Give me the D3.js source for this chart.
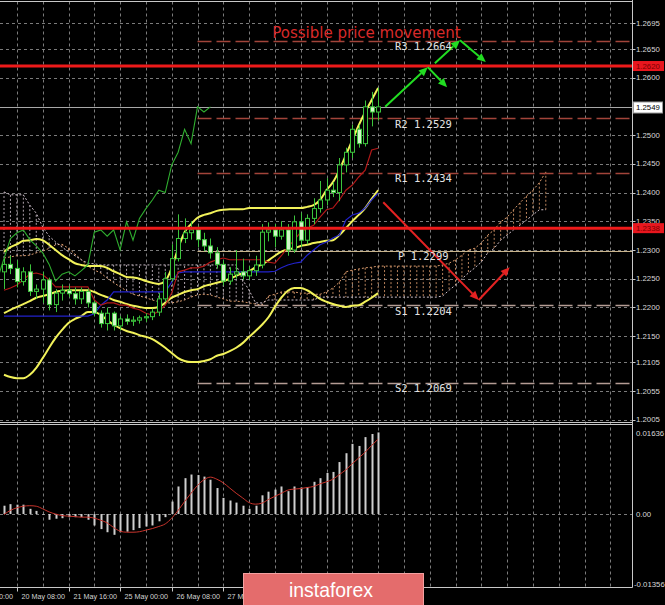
<!DOCTYPE html>
<html><head><meta charset="utf-8">
<script src="https://cdn.jsdelivr.net/npm/d3@7"></script>
<style>html,body{margin:0;padding:0;background:#000;overflow:hidden}</style>
</head><body><svg id="c" width="665" height="605"></svg>
<script>
// ---------- DATA ----------
const opens  = [1.2262,1.2275,1.2268,1.2245,1.2262,1.2228,1.2232,1.2248,1.2205,1.2225,1.2230,1.2224,1.2215,1.2228,1.2208,1.2190,1.2172,1.2190,1.2168,1.2180,1.2176,1.2178,1.2182,1.2184,1.2192,1.2215,1.2250,1.2285,1.2320,1.2330,1.2335,1.2318,1.2307,1.2295,1.2275,1.2246,1.2258,1.2262,1.2255,1.2264,1.2274,1.2331,1.2335,1.2324,1.2335,1.2300,1.2349,1.2317,1.2355,1.2372,1.2387,1.2404,1.2400,1.2448,1.2470,1.2510,1.2485,1.2549,1.2540];
const highs  = [1.2285,1.2290,1.2282,1.2270,1.2275,1.2240,1.2262,1.2252,1.2232,1.2240,1.2238,1.2235,1.2235,1.2233,1.2212,1.2195,1.2200,1.2193,1.2185,1.2188,1.2185,1.2186,1.2190,1.2198,1.2225,1.2262,1.2310,1.2362,1.2355,1.2350,1.2342,1.2330,1.2320,1.2305,1.2282,1.2270,1.2300,1.2285,1.2272,1.2290,1.2345,1.2348,1.2345,1.2350,1.2345,1.2360,1.2365,1.2362,1.2390,1.2420,1.2425,1.2418,1.2460,1.2478,1.2518,1.2518,1.2560,1.2575,1.2582];
const lows   = [1.2232,1.2258,1.2235,1.2238,1.2220,1.2215,1.2208,1.2195,1.2192,1.2212,1.2218,1.2205,1.2206,1.2200,1.2185,1.2165,1.2160,1.2160,1.2160,1.2170,1.2168,1.2172,1.2175,1.2178,1.2185,1.2210,1.2245,1.2280,1.2312,1.2318,1.2305,1.2298,1.2285,1.2268,1.2238,1.2240,1.2250,1.2248,1.2248,1.2255,1.2268,1.2315,1.2305,1.2318,1.2290,1.2295,1.2305,1.2310,1.2345,1.2365,1.2378,1.2392,1.2385,1.2435,1.2460,1.2478,1.2480,1.2515,1.2525];
const closes = [1.2275,1.2268,1.2245,1.2262,1.2228,1.2232,1.2248,1.2205,1.2225,1.2230,1.2224,1.2215,1.2228,1.2208,1.2190,1.2172,1.2190,1.2168,1.2180,1.2176,1.2178,1.2182,1.2184,1.2192,1.2215,1.2250,1.2285,1.2320,1.2330,1.2335,1.2318,1.2307,1.2295,1.2275,1.2246,1.2258,1.2262,1.2255,1.2264,1.2274,1.2331,1.2335,1.2324,1.2335,1.2300,1.2349,1.2317,1.2355,1.2372,1.2387,1.2404,1.2400,1.2448,1.2470,1.2510,1.2485,1.2549,1.2540,1.2549];

const bbUpper  = [1.2297,1.2305,1.2310,1.2316,1.2317,1.2319,1.2317,1.2309,1.2300,1.2291,1.2284,1.2277,1.2274,1.2272,1.2272,1.2272,1.2269,1.2263,1.2258,1.2253,1.2252,1.2250,1.2246,1.2243,1.2241,1.2246,1.2269,1.2303,1.2331,1.2345,1.2356,1.2361,1.2364,1.2368,1.2370,1.2371,1.2371,1.2371,1.2373,1.2373,1.2373,1.2373,1.2373,1.2373,1.2373,1.2373,1.2373,1.2375,1.2378,1.2387,1.2404,1.2418,1.2439,1.2465,1.2491,1.2517,1.2540,1.2561,1.2582];
const bbMiddle = [1.2190,1.2196,1.2201,1.2206,1.2211,1.2217,1.2220,1.2223,1.2227,1.2229,1.2230,1.2230,1.2230,1.2230,1.2227,1.2222,1.2218,1.2213,1.2210,1.2206,1.2203,1.2201,1.2199,1.2199,1.2201,1.2208,1.2217,1.2222,1.2227,1.2230,1.2232,1.2237,1.2240,1.2243,1.2246,1.2250,1.2255,1.2260,1.2263,1.2270,1.2275,1.2282,1.2290,1.2297,1.2301,1.2303,1.2307,1.2309,1.2312,1.2314,1.2316,1.2317,1.2326,1.2338,1.2350,1.2361,1.2373,1.2389,1.2404];
const bbLower  = [1.2083,1.2079,1.2077,1.2077,1.2083,1.2095,1.2112,1.2130,1.2147,1.2161,1.2173,1.2180,1.2185,1.2192,1.2192,1.2187,1.2178,1.2170,1.2164,1.2159,1.2156,1.2152,1.2149,1.2145,1.2138,1.2130,1.2121,1.2112,1.2107,1.2105,1.2105,1.2107,1.2110,1.2116,1.2119,1.2124,1.2130,1.2138,1.2149,1.2159,1.2170,1.2183,1.2201,1.2217,1.2229,1.2234,1.2234,1.2230,1.2223,1.2215,1.2210,1.2206,1.2203,1.2201,1.2203,1.2204,1.2210,1.2217,1.2225];

const tenkan = [1.2230,1.2234,1.2239,1.2248,1.2258,1.2260,1.2257,1.2248,1.2236,1.2236,1.2236,1.2236,1.2236,1.2236,1.2213,1.2204,1.2208,1.2208,1.2204,1.2204,1.2199,1.2196,1.2190,1.2187,1.2194,1.2204,1.2225,1.2262,1.2265,1.2269,1.2269,1.2272,1.2279,1.2283,1.2286,1.2283,1.2283,1.2283,1.2283,1.2283,1.2283,1.2279,1.2277,1.2290,1.2305,1.2317,1.2331,1.2338,1.2343,1.2357,1.2370,1.2373,1.2387,1.2404,1.2413,1.2427,1.2439,1.2474,1.2477];
const kijun  = [1.2185,1.2185,1.2185,1.2185,1.2185,1.2185,1.2185,1.2185,1.2185,1.2185,1.2185,1.2185,1.2185,1.2185,1.2189,1.2204,1.2213,1.2227,1.2227,1.2227,1.2227,1.2227,1.2227,1.2227,1.2227,1.2227,1.2244,1.2260,1.2262,1.2262,1.2262,1.2262,1.2262,1.2262,1.2262,1.2262,1.2262,1.2262,1.2262,1.2262,1.2262,1.2262,1.2263,1.2269,1.2274,1.2277,1.2279,1.2291,1.2300,1.2309,1.2314,1.2321,1.2326,1.2352,1.2361,1.2364,1.2373,1.2387,1.2399];

const spanA = [1.2286,1.2288,1.2290,1.2290,1.2291,1.2295,1.2298,1.2303,1.2309,1.2310,
               1.2303,1.2293,1.2283,1.2272,1.2265,1.2260,1.2251,1.2243,1.2236,1.2229,
               1.2223,1.2220,1.2217,1.2213,1.2210,1.2208,1.2208,1.2210,1.2213,1.2218,
               1.2222,1.2223,1.2222,1.2218,1.2215,1.2211,1.2211,1.2210,1.2208,1.2206,
               1.2204,1.2220,1.2223,1.2227,1.2227,1.2227,1.2225,1.2225,1.2223,1.2223,
               1.2227,1.2234,1.2244,1.2262,1.2265,1.2267,1.2269,1.2270,1.2272,1.2272,
               1.2272,1.2272,1.2272,1.2272,1.2272,1.2272,1.2272,1.2272,1.2274,1.2277,
               1.2283,1.2291,1.2300,1.2303,1.2312,1.2326,1.2335,1.2349,1.2357,1.2370,
               1.2382,1.2394,1.2404,1.2417,1.2436];
const spanB = [1.2401,1.2396,1.2396,1.2396,1.2378,1.2364,1.2340,1.2324,1.2314,1.2305,
               1.2297,1.2290,1.2283,1.2277,1.2276,1.2274,1.2274,1.2274,1.2274,1.2274,
               1.2274,1.2274,1.2274,1.2274,1.2274,1.2274,1.2274,1.2274,1.2274,1.2274,
               1.2274,1.2274,1.2274,1.2274,1.2274,1.2274,1.2274,1.2248,1.2230,1.2208,
               1.2208,1.2213,1.2213,1.2213,1.2213,1.2213,1.2213,1.2213,1.2213,1.2218,
               1.2218,1.2218,1.2218,1.2218,1.2218,1.2218,1.2218,1.2218,1.2218,1.2218,
               1.2218,1.2218,1.2218,1.2218,1.2218,1.2218,1.2218,1.2218,1.2220,1.2230,
               1.2239,1.2250,1.2260,1.2269,1.2279,1.2295,1.2303,1.2317,1.2326,1.2335,
               1.2343,1.2352,1.2361,1.2370,1.2370];

const macdHist = [0.0016,0.0019,0.0018,0.0018,0.0010,0.0006,-0.0001,-0.0011,-0.0009,-0.0008,-0.0006,-0.0006,-0.0006,-0.0011,-0.0022,-0.0029,-0.0035,-0.0040,-0.0035,-0.0034,-0.0031,-0.0027,-0.0024,-0.0022,-0.0014,-0.0006,0.0024,0.0053,0.0069,0.0076,0.0075,0.0072,0.0066,0.0050,0.0031,0.0026,0.0022,0.0016,0.0010,0.0016,0.0036,0.0043,0.0047,0.0053,0.0044,0.0053,0.0051,0.0052,0.0062,0.0069,0.0079,0.0081,0.0100,0.0117,0.0135,0.0131,0.0148,0.0154,0.0157];
const macdSignal = [-0.0001,0.0007,0.0012,0.0015,0.0016,0.0015,0.0010,0.0004,0.0000,-0.0003,-0.0004,-0.0005,-0.0006,-0.0006,-0.0008,-0.0012,-0.0017,-0.0026,-0.0033,-0.0035,-0.0035,-0.0034,-0.0031,-0.0028,-0.0024,-0.0019,-0.0008,0.0007,0.0024,0.0040,0.0055,0.0066,0.0071,0.0067,0.0060,0.0050,0.0040,0.0031,0.0022,0.0019,0.0021,0.0028,0.0034,0.0040,0.0046,0.0048,0.0049,0.0051,0.0053,0.0058,0.0062,0.0067,0.0076,0.0085,0.0097,0.0108,0.0119,0.0132,0.0144];

const priceTicks = [1.2695,1.2650,1.2600,1.2500,1.2450,1.2400,1.2350,1.2300,1.2250,1.2200,1.2150,1.2105,1.2055,1.2005];
const macdTicks = [0.01636, 0.00, -0.01356];
const macdTickLabels = ["0.01636","0.00","-0.01356"];
const timeBars = [-6,2,10,18,26,34];
const timeLabels = ["19 May 00:00","20 May 08:00","21 May 16:00","25 May 00:00","26 May 08:00","27 May 16:00"];

const pivotNames  = ["R3","R2","R1","P","S1","S2"];
const pivotValues = [1.2664,1.2529,1.2434,1.2299,1.2204,1.2069];
const pivotStartBar = 30;

const redLevels = [1.2620, 1.2338];
const currentPrice = 1.2549;
const chikouShift = 26;

// arrows: [barFrom, priceFrom, barTo, priceTo]
const greenArrows = [[59.1,1.2549,65.7,1.2618],[65.7,1.2618,68.7,1.2583],[66.8,1.2625,70.7,1.2665],[70.7,1.2665,74.7,1.2627]];
const redArrows   = [[58.8,1.2383,73.6,1.2213],[73.6,1.2213,78.4,1.2270]];

const titleText = "Possible price movement";

// ---------- LAYOUT ----------
const RIGHT = 632.5, TOP = 1.5, MAINBOT = 422.5, SUBTOP = 424.5, BOTTOM = 587.5;
const svg = d3.select('#c');
svg.append('rect').attr('width',665).attr('height',605).attr('fill','#000');

const x  = d3.scaleLinear().domain([0,58]).range([4, 4+58*6.45]);
const y  = d3.scaleLinear().domain([1.2005,1.2695]).range([419.6,22.9]);
const ym = d3.scaleLinear().domain([-0.01356,0.01636]).range([584.5,429]);

const defs = svg.append('defs');
defs.append('clipPath').attr('id','cm').append('rect').attr('x',0).attr('y',2).attr('width',RIGHT).attr('height',MAINBOT-2.5);
defs.append('clipPath').attr('id','cs').append('rect').attr('x',0).attr('y',SUBTOP+0.5).attr('width',RIGHT).attr('height',BOTTOM-SUBTOP-1);

const gridCol = '#9a9a9a';
const gridBars = d3.range(-2, 96, 4);
svg.append('g').selectAll('line').data(gridBars.filter(b=>x(b)>0 && x(b)<RIGHT-2)).join('line')
  .attr('x1',b=>Math.round(x(b))+0.5).attr('x2',b=>Math.round(x(b))+0.5)
  .attr('y1',TOP).attr('y2',BOTTOM)
  .attr('stroke',gridCol).attr('stroke-width',0.8).attr('stroke-dasharray','3,3');
svg.append('g').selectAll('line').data(priceTicks).join('line')
  .attr('x1',0).attr('x2',RIGHT)
  .attr('y1',d=>Math.round(y(d))+0.5).attr('y2',d=>Math.round(y(d))+0.5)
  .attr('stroke',gridCol).attr('stroke-width',0.8).attr('stroke-dasharray','3,3');
svg.append('line').attr('x1',0).attr('x2',RIGHT).attr('y1',Math.round(ym(0))+0.5).attr('y2',Math.round(ym(0))+0.5)
  .attr('stroke',gridCol).attr('stroke-width',0.8).attr('stroke-dasharray','3,3');

const main = svg.append('g').attr('clip-path','url(#cm)');

// ---------- Ichimoku cloud ----------
const cloudIdx = d3.range(spanA.length);
const tan = '#d99a6c', thistle = '#cdbfca';
main.append('g').selectAll('line').data(cloudIdx).join('line')
  .attr('x1',i=>x(i)).attr('x2',i=>x(i))
  .attr('y1',i=>y(spanA[i])).attr('y2',i=>y(spanB[i]))
  .attr('stroke',i=>spanA[i]>=spanB[i]?tan:thistle)
  .attr('stroke-width',1).attr('stroke-dasharray','2,2').attr('opacity',0.85);
const lineGen = arr => d3.line().x((d,i)=>x(i)).y(d=>y(d))(arr);
main.append('path').attr('d',lineGen(spanA)).attr('fill','none').attr('stroke',tan).attr('stroke-width',1).attr('stroke-dasharray','2,2');
main.append('path').attr('d',lineGen(spanB)).attr('fill','none').attr('stroke',thistle).attr('stroke-width',1).attr('stroke-dasharray','2,2');

// ---------- pivots ----------
pivotValues.forEach((v,k)=>{
  const nm = pivotNames[k];
  const col = nm[0]==='R' ? '#a2443a' : (nm==='P' ? '#c9b48c' : '#b49c94');
  main.append('line').attr('x1',x(pivotStartBar)).attr('x2',RIGHT)
    .attr('y1',Math.round(y(v))+0.5).attr('y2',Math.round(y(v))+0.5)
    .attr('stroke',col).attr('stroke-width',nm==='P'?1:1.3)
    .attr('stroke-dasharray',nm==='P'?null:'14,5');
});

// ---------- current price line ----------
main.append('line').attr('x1',0).attr('x2',RIGHT).attr('y1',Math.round(y(currentPrice))+0.5).attr('y2',Math.round(y(currentPrice))+0.5)
  .attr('stroke','#a8a8a8').attr('stroke-width',1);

// ---------- Bollinger ----------
[bbUpper,bbMiddle,bbLower].forEach(arr=>{
  main.append('path').attr('d',d3.line().curve(d3.curveMonotoneX).x((d,i)=>x(i)).y(d=>y(d))(arr))
    .attr('fill','none').attr('stroke','#f2f25a').attr('stroke-width',2);
});

// ---------- tenkan / kijun ----------
main.append('path').attr('d',lineGen(kijun)).attr('fill','none').attr('stroke','#2222cc').attr('stroke-width',1.2);
main.append('path').attr('d',lineGen(tenkan)).attr('fill','none').attr('stroke','#b01818').attr('stroke-width',1.2);

// ---------- chikou ----------
main.append('path').attr('d',d3.line().x((d,i)=>x(i-chikouShift)).y(d=>y(d))(closes))
  .attr('fill','none').attr('stroke','#2fae2f').attr('stroke-width',1.1);

// ---------- candles ----------
const cG = main.append('g');
const candleCol = '#3cc43c';
closes.forEach((c,i)=>{
  const o = opens[i], xi = Math.round(x(i))+0.5;
  cG.append('line').attr('x1',xi).attr('x2',xi).attr('y1',y(highs[i])).attr('y2',y(lows[i]))
    .attr('stroke',candleCol).attr('stroke-width',1);
  const top = y(Math.max(o,c)), bot = y(Math.min(o,c));
  cG.append('rect').attr('x',xi-2).attr('width',4).attr('y',top).attr('height',Math.max(1,bot-top))
    .attr('fill', c>=o ? '#000' : '#d2f7c8').attr('stroke',candleCol).attr('stroke-width',1);
});

// ---------- red levels ----------
redLevels.forEach(v=>{
  main.append('line').attr('x1',0).attr('x2',RIGHT).attr('y1',y(v)).attr('y2',y(v))
    .attr('stroke','#ee1a1a').attr('stroke-width',3);
});

// ---------- arrows ----------
function arrow(a,col){
  const x1=x(a[0]), y1=y(a[1]), x2=x(a[2]), y2=y(a[3]);
  const ang=Math.atan2(y2-y1,x2-x1), L=9, Wd=4;
  const bx=x2-L*Math.cos(ang), by=y2-L*Math.sin(ang);
  main.append('line').attr('x1',x1).attr('y1',y1).attr('x2',bx).attr('y2',by)
    .attr('stroke',col).attr('stroke-width',2);
  const pts=[[x2,y2],[bx-Wd*Math.sin(ang),by+Wd*Math.cos(ang)],[bx+Wd*Math.sin(ang),by-Wd*Math.cos(ang)]];
  main.append('polygon').attr('points',pts.map(p=>p.join(',')).join(' ')).attr('fill',col);
}
greenArrows.forEach(a=>arrow(a,'#22dd22'));
redArrows.forEach(a=>arrow(a,'#e42222'));

// ---------- pivot labels ----------
pivotValues.forEach((v,k)=>{
  main.append('text').attr('x', pivotNames[k]==='P'?398:395).attr('y',y(v)+9.5)
    .attr('font-family','DejaVu Sans Mono').attr('font-size',10.5).attr('fill','#e4e4e4')
    .text(pivotNames[k]+' '+v.toFixed(4));
});

// ---------- title ----------
svg.append('text').attr('x',366.5).attr('y',37.5).attr('text-anchor','middle')
  .attr('font-family','DejaVu Sans').attr('font-size',15).attr('fill','#d82a2a').text(titleText);

// ---------- MACD ----------
const sub = svg.append('g').attr('clip-path','url(#cs)');
sub.append('g').selectAll('rect').data(macdHist).join('rect')
  .attr('x',(d,i)=>Math.round(x(i))-0.5).attr('width',2)
  .attr('y',d=>Math.min(ym(d),ym(0))).attr('height',d=>Math.abs(ym(d)-ym(0)))
  .attr('fill','#cfcfcf');
sub.append('path').attr('d',d3.line().curve(d3.curveMonotoneX).x((d,i)=>x(i)).y(d=>ym(d))(macdSignal))
  .attr('fill','none').attr('stroke','#c8342c').attr('stroke-width',1);

// ---------- frame ----------
const frameCol = '#c8c8c8';
svg.append('line').attr('x1',0).attr('x2',RIGHT).attr('y1',TOP).attr('y2',TOP).attr('stroke',frameCol);
svg.append('line').attr('x1',0).attr('x2',RIGHT).attr('y1',MAINBOT).attr('y2',MAINBOT).attr('stroke',frameCol);
svg.append('line').attr('x1',0).attr('x2',RIGHT).attr('y1',SUBTOP).attr('y2',SUBTOP).attr('stroke',frameCol);
svg.append('line').attr('x1',0).attr('x2',RIGHT).attr('y1',BOTTOM).attr('y2',BOTTOM).attr('stroke',frameCol);
svg.append('line').attr('x1',RIGHT).attr('x2',RIGHT).attr('y1',0).attr('y2',BOTTOM).attr('stroke',frameCol);

// ---------- right axis ----------
const axG = svg.append('g').attr('font-family','Liberation Sans').attr('font-size',7.8).attr('fill','#d8d8d8');
priceTicks.forEach(v=>{
  svg.append('line').attr('x1',RIGHT).attr('x2',RIGHT+3).attr('y1',Math.round(y(v))+0.5).attr('y2',Math.round(y(v))+0.5).attr('stroke',frameCol);
  axG.append('text').attr('x',636).attr('y',y(v)).attr('dy','0.35em').text(v.toFixed(4));
});
macdTicks.forEach((v,k)=>{
  axG.append('text').attr('x',k===2?634:636).attr('y',k===0?ym(v)+4:ym(v)).attr('dy','0.35em').text(macdTickLabels[k]);
});
const cpY = Math.round(y(currentPrice))+0.5;
svg.append('rect').attr('x',633.5).attr('y',cpY-5.5).attr('width',29).attr('height',11).attr('fill','#fff').attr('stroke','#999');
svg.append('text').attr('x',636).attr('y',cpY).attr('dy','0.35em').attr('font-family','Liberation Sans').attr('font-size',7.8).attr('fill','#000').text(currentPrice.toFixed(4));
redLevels.forEach(v=>{
  svg.append('rect').attr('x',633).attr('y',y(v)-5).attr('width',31).attr('height',10).attr('fill','#e8161e');
  svg.append('text').attr('x',636).attr('y',y(v)).attr('dy','0.35em').attr('font-family','Liberation Sans').attr('font-size',7.8).attr('fill','#7a0000').text(v.toFixed(4));
});

// ---------- time axis ----------
const tG = svg.append('g').attr('font-family','Liberation Sans').attr('font-size',7.2).attr('fill','#d4d4d4');
timeBars.forEach((b,k)=>{
  const xx = Math.round(x(b))+0.5;
  svg.append('line').attr('x1',xx).attr('x2',xx).attr('y1',BOTTOM).attr('y2',BOTTOM+4).attr('stroke',frameCol);
  tG.append('text').attr('x',xx+4).attr('y',598.5).text(timeLabels[k]);
});

// ---------- logo ----------
svg.append('rect').attr('x',243.5).attr('y',573.5).attr('width',180).attr('height',34).attr('fill','#e46c6c').attr('stroke','#f3a0a0');
svg.append('text').attr('x',331).attr('y',596.5).attr('text-anchor','middle')
  .attr('font-family','Liberation Sans').attr('font-size',21).attr('fill','#fff')
  .attr('textLength',84).attr('lengthAdjust','spacingAndGlyphs').text('instaforex');
</script></body></html>
